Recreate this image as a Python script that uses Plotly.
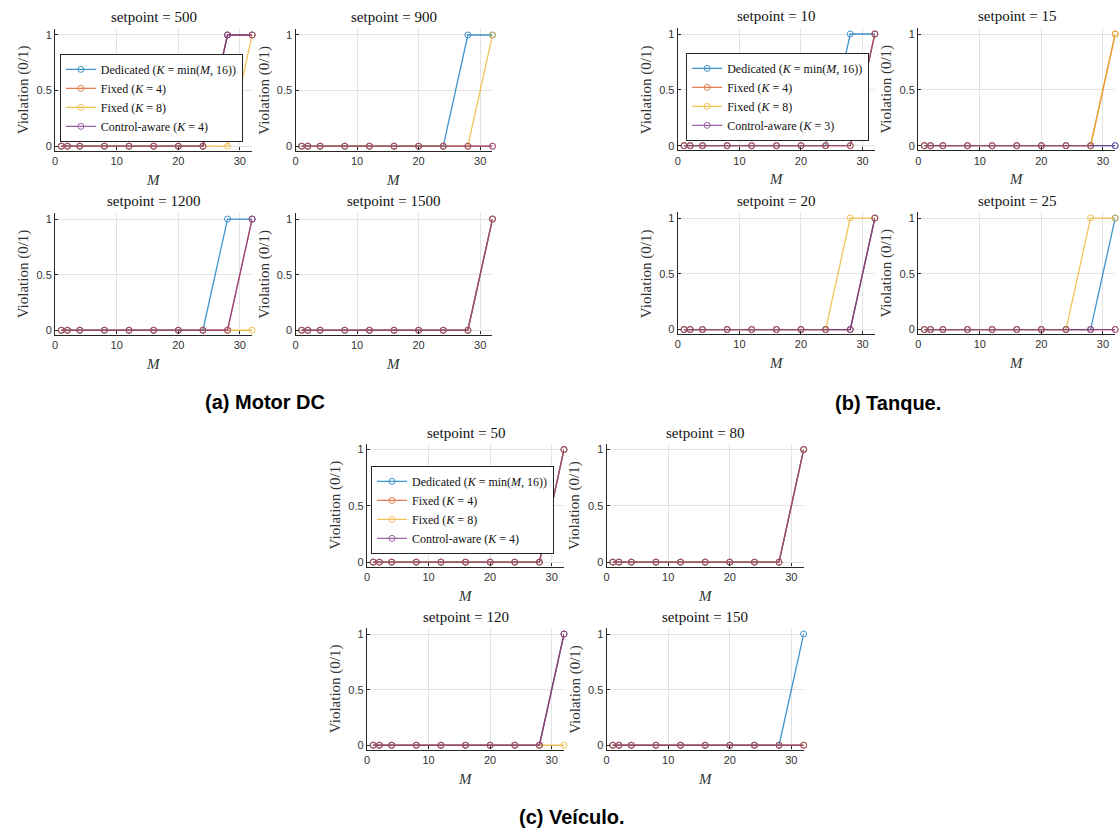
import plotly.graph_objects as go

# ---------------- data ----------------
M = [1, 2, 4, 8, 12, 16, 20, 24, 28, 32]

motor_setpoints = [500, 900, 1200, 1500]
motor_dedicated = [[0, 0, 0, 0, 0, 0, 0, 0, 1, 1],
                   [0, 0, 0, 0, 0, 0, 0, 0, 1, 1],
                   [0, 0, 0, 0, 0, 0, 0, 0, 1, 1],
                   [0, 0, 0, 0, 0, 0, 0, 0, 0, 1]]
motor_fixed4 = [[0, 0, 0, 0, 0, 0, 0, 0, 1, 1],
                [0, 0, 0, 0, 0, 0, 0, 0, 0, 0],
                [0, 0, 0, 0, 0, 0, 0, 0, 0, 1],
                [0, 0, 0, 0, 0, 0, 0, 0, 0, 1]]
motor_fixed8 = [[0, 0, 0, 0, 0, 0, 0, 0, 0, 1],
                [0, 0, 0, 0, 0, 0, 0, 0, 0, 1],
                [0, 0, 0, 0, 0, 0, 0, 0, 0, 0],
                [0, 0, 0, 0, 0, 0, 0, 0, 0, 1]]
motor_aware = [[0, 0, 0, 0, 0, 0, 0, 0, 1, 1],
               [0, 0, 0, 0, 0, 0, 0, 0, 0, 0],
               [0, 0, 0, 0, 0, 0, 0, 0, 0, 1],
               [0, 0, 0, 0, 0, 0, 0, 0, 0, 1]]

tank_setpoints = [10, 15, 20, 25]
tank_dedicated = [[0, 0, 0, 0, 0, 0, 0, 0, 1, 1],
                  [0, 0, 0, 0, 0, 0, 0, 0, 0, 0],
                  [0, 0, 0, 0, 0, 0, 0, 0, 0, 1],
                  [0, 0, 0, 0, 0, 0, 0, 0, 0, 1]]
tank_fixed4 = [[0, 0, 0, 0, 0, 0, 0, 0, 0, 1],
               [0, 0, 0, 0, 0, 0, 0, 0, 0, 1],
               [0, 0, 0, 0, 0, 0, 0, 0, 0, 1],
               [0, 0, 0, 0, 0, 0, 0, 0, 0, 0]]
tank_fixed8 = [[0, 0, 0, 0, 0, 0, 0, 0, 0, 1],
               [0, 0, 0, 0, 0, 0, 0, 0, 0, 1],
               [0, 0, 0, 0, 0, 0, 0, 0, 1, 1],
               [0, 0, 0, 0, 0, 0, 0, 0, 1, 1]]
tank_aware = [[0, 0, 0, 0, 0, 0, 0, 0, 0, 1],
              [0, 0, 0, 0, 0, 0, 0, 0, 0, 0],
              [0, 0, 0, 0, 0, 0, 0, 0, 0, 1],
              [0, 0, 0, 0, 0, 0, 0, 0, 0, 0]]

vehicle_setpoints = [50, 80, 120, 150]
vehicle_dedicated = [[0, 0, 0, 0, 0, 0, 0, 0, 0, 1],
                     [0, 0, 0, 0, 0, 0, 0, 0, 0, 1],
                     [0, 0, 0, 0, 0, 0, 0, 0, 0, 1],
                     [0, 0, 0, 0, 0, 0, 0, 0, 0, 1]]
vehicle_fixed4 = [[0, 0, 0, 0, 0, 0, 0, 0, 0, 1],
                  [0, 0, 0, 0, 0, 0, 0, 0, 0, 1],
                  [0, 0, 0, 0, 0, 0, 0, 0, 0, 1],
                  [0, 0, 0, 0, 0, 0, 0, 0, 0, 0]]
vehicle_fixed8 = [[0, 0, 0, 0, 0, 0, 0, 0, 0, 1],
                  [0, 0, 0, 0, 0, 0, 0, 0, 0, 1],
                  [0, 0, 0, 0, 0, 0, 0, 0, 0, 0],
                  [0, 0, 0, 0, 0, 0, 0, 0, 0, 0]]
vehicle_aware = [[0, 0, 0, 0, 0, 0, 0, 0, 0, 1],
                 [0, 0, 0, 0, 0, 0, 0, 0, 0, 1],
                 [0, 0, 0, 0, 0, 0, 0, 0, 0, 1],
                 [0, 0, 0, 0, 0, 0, 0, 0, 0, 0]]

motor_aware_K = 4
tank_aware_K = 3
vehicle_aware_K = 4

captions = ["(a) Motor DC", "(b) Tanque.", "(c) Veículo."]
x_ticks = [0, 10, 20, 30]
y_ticks = [0, 0.5, 1]

# ---------------- style ----------------
W, H = 1119, 831
COLORS = ["#0072BD", "#D95319", "#EDB120", "#7E2F8E"]
SERIF = "Liberation Serif, Times New Roman, serif"
SANS = "Liberation Sans, Arial, Helvetica, sans-serif"
AXC = "#262626"

groups = [
    dict(name="motor", sps=motor_setpoints,
         data=[motor_dedicated, motor_fixed4, motor_fixed8, motor_aware],
         K=motor_aware_K, xs=[52.3, 293.3], rows=[(28.5, 150.0), (213.0, 334.5)],
         title_y=[16.5, 200.0], legend=(57, 53), cap=(263, 402), legend_id="legend"),
    dict(name="tank", sps=tank_setpoints,
         data=[tank_dedicated, tank_fixed4, tank_fixed8, tank_aware],
         K=tank_aware_K, xs=[676.7, 917.7], rows=[(27.5, 149.5), (212.0, 333.8)],
         title_y=[15.5, 200.0], legend=(685, 52), cap=(887, 403), legend_id="legend2"),
    dict(name="vehicle", sps=vehicle_setpoints,
         data=[vehicle_dedicated, vehicle_fixed4, vehicle_fixed8, vehicle_aware],
         K=vehicle_aware_K, xs=[365.0, 605.3], rows=[(444.0, 567.0), (629.0, 750.5)],
         title_y=[433.0, 617.0], legend=(369, 466), cap=(571, 818), legend_id="legend3"),
]
PW = 197.5  # plot width in px

fig = go.Figure()
annotations = []
layout = {}
ax = 0
for gi, g in enumerate(groups):
    names = ["Dedicated (<i>K</i> = min(<i>M</i>, 16))",
             "Fixed (<i>K</i> = 4)",
             "Fixed (<i>K</i> = 8)",
             f"Control-aware (<i>K</i> = {g['K']})"]
    for si in range(4):
        ax += 1
        r, c = divmod(si, 2)
        x0 = g["xs"][c]
        top, bot = g["rows"][r]
        xa = "x" if ax == 1 else f"x{ax}"
        ya = "y" if ax == 1 else f"y{ax}"
        for k in range(4):
            fig.add_trace(go.Scatter(
                x=M, y=g["data"][k][si], mode="lines+markers",
                name=names[k], legend=g["legend_id"],
                showlegend=(si == 0),
                line=dict(color=COLORS[k], width=1.3),
                marker=dict(symbol="circle-open", size=6, color=COLORS[k], line=dict(width=1)),
                opacity=0.75, cliponaxis=False,
                xaxis=xa, yaxis=ya))
        layout["xaxis" if ax == 1 else f"xaxis{ax}"] = dict(
            domain=[x0 / W, (x0 + PW) / W], anchor=ya, range=[0, 32],
            tickvals=x_ticks, showgrid=True, gridcolor="#e3e3e3", zeroline=False,
            showline=True, linecolor=AXC, linewidth=1.4, ticks="inside", ticklen=3,
            tickcolor=AXC, tickfont=dict(family=SANS, size=11, color="#333333"))
        layout["yaxis" if ax == 1 else f"yaxis{ax}"] = dict(
            domain=[1 - bot / H, 1 - top / H], anchor=xa, range=[-0.04, 1.05],
            tickvals=y_ticks, ticktext=["0", "0.5", "1"], showgrid=True, gridcolor="#e3e3e3",
            zeroline=False, showline=True, linecolor=AXC, linewidth=1.4, ticks="inside",
            ticklen=3, tickcolor=AXC, tickfont=dict(family=SANS, size=11, color="#333333"))
        cx = (x0 + PW / 2) / W
        annotations.append(dict(text=f"setpoint = {g['sps'][si]}", x=cx, y=1 - g["title_y"][r] / H,
                                xref="paper", yref="paper", showarrow=False,
                                font=dict(family=SERIF, size=15, color="#111111"),
                                xanchor="center", yanchor="middle"))
        annotations.append(dict(text="Violation (0/1)", x=(x0 - 32) / W, y=1 - (top + bot) / 2 / H,
                                xref="paper", yref="paper", showarrow=False, textangle=-90,
                                font=dict(family=SERIF, size=15, color="#333333"),
                                xanchor="center", yanchor="middle"))
        annotations.append(dict(text="<i>M</i>", x=cx, y=1 - (bot + 29) / H,
                                xref="paper", yref="paper", showarrow=False,
                                font=dict(family=SERIF, size=15, color="#333333"),
                                xanchor="center", yanchor="middle"))
    lx, ly = g["legend"]
    layout[g["legend_id"]] = dict(x=lx / W, y=1 - ly / H, xref="paper", yref="paper",
                                  xanchor="left", yanchor="top", bgcolor="white",
                                  bordercolor=AXC, borderwidth=1, tracegroupgap=0,
                                  itemwidth=30,
                                  font=dict(family=SERIF, size=12, color="#111111"))
    annotations.append(dict(text=f"<b>{captions[gi]}</b>", x=g["cap"][0] / W, y=1 - g["cap"][1] / H,
                            xref="paper", yref="paper", showarrow=False,
                            font=dict(family=SANS, size=20, color="black"),
                            xanchor="center", yanchor="middle"))

fig.update_layout(width=W, height=H, margin=dict(l=0, r=0, t=0, b=0),
                  paper_bgcolor="white", plot_bgcolor="white",
                  annotations=annotations, **layout)

fig.write_html("out.html", config={"displayModeBar": False},
               post_script="document.body.style.margin='0';document.body.style.padding='0';")
